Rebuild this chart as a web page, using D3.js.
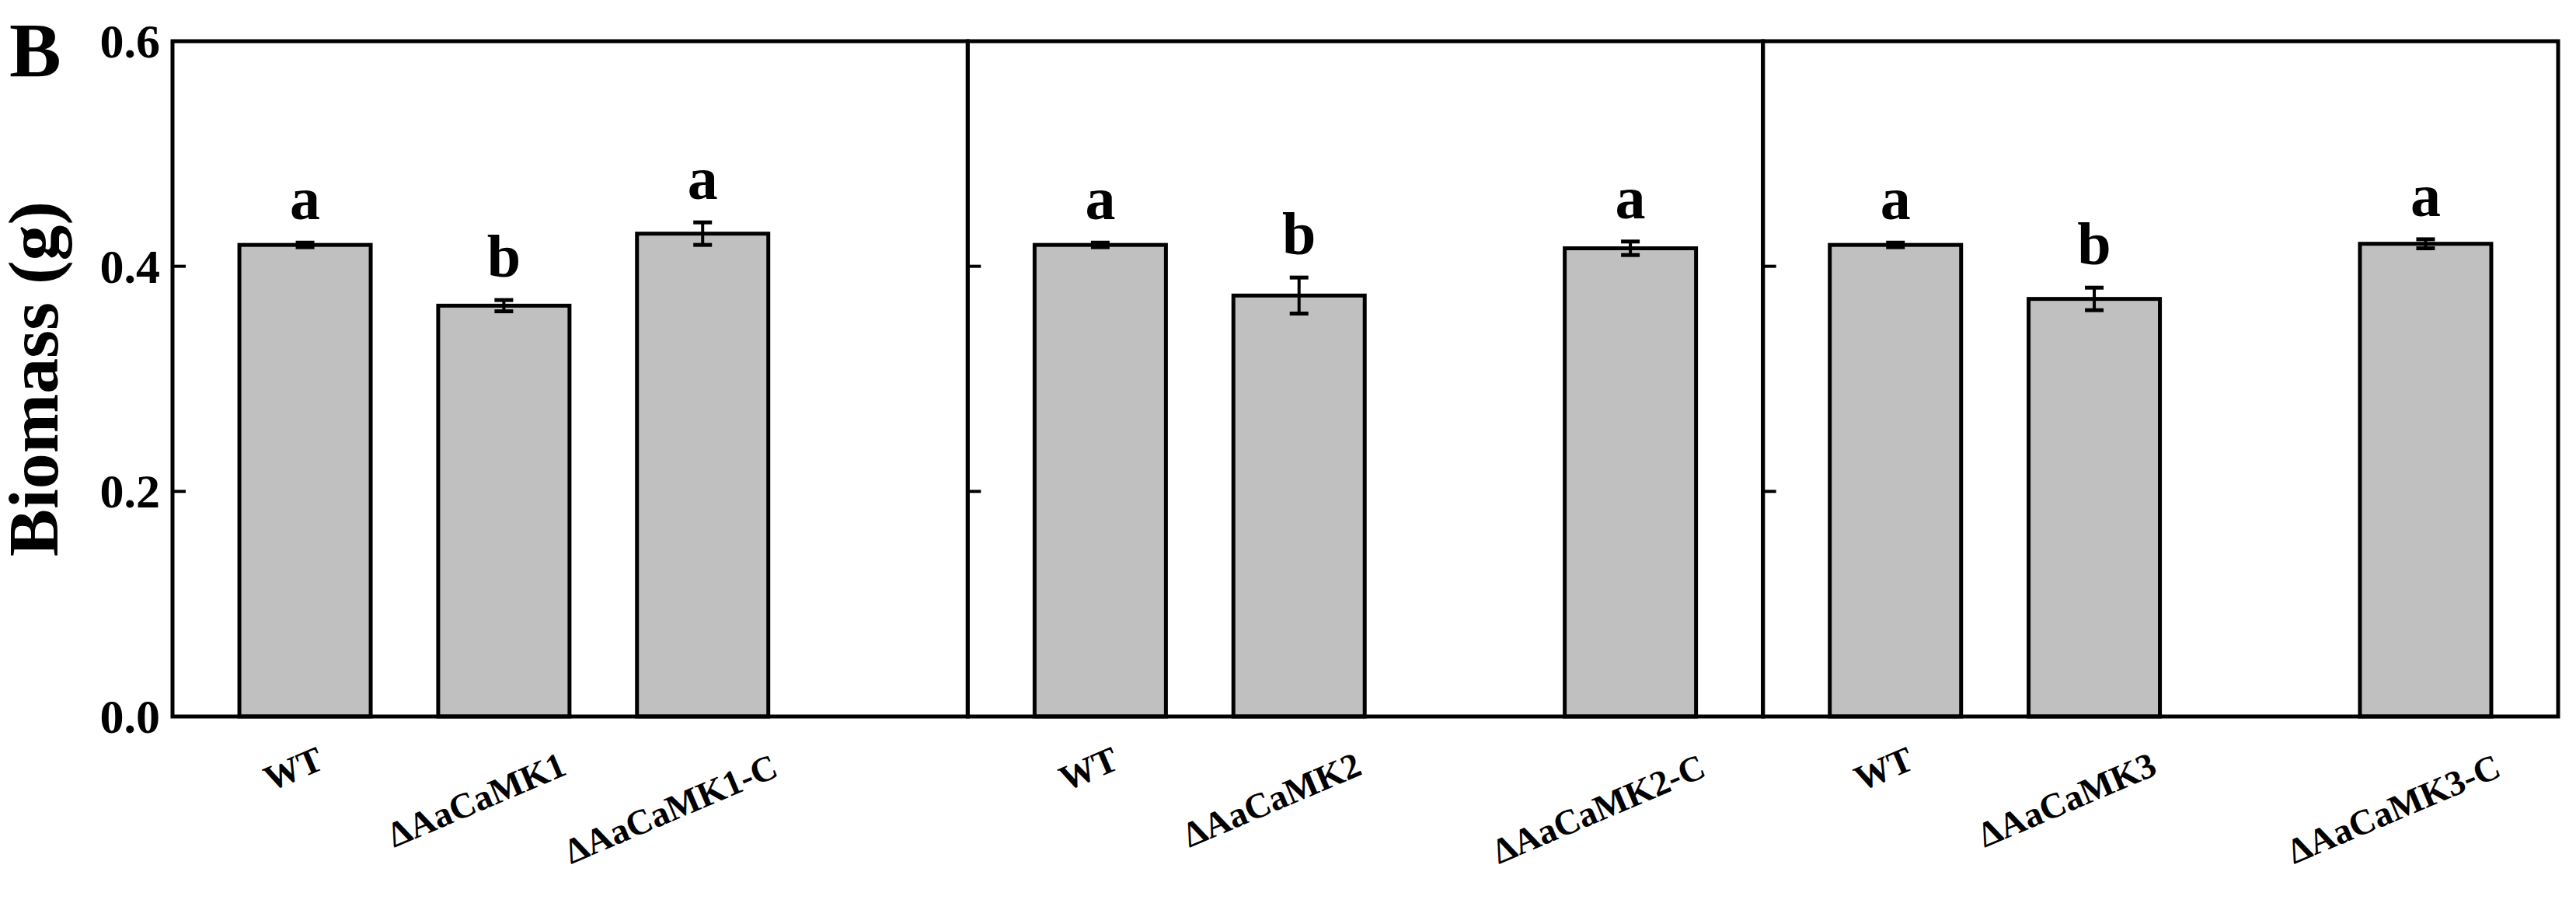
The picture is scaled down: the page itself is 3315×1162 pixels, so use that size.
<!DOCTYPE html>
<html><head><meta charset="utf-8">
<script src="https://cdn.jsdelivr.net/npm/d3@7"></script>
<style>body{margin:0;background:#fff}text{font-family:"Liberation Serif","Times New Roman",serif;font-weight:bold}</style>
</head><body>
<svg id="c" width="3315" height="1162"></svg>
<script>
const groups = ["1","2","3"];
const categories = [
  ["WT","ΔAaCaMK1","ΔAaCaMK1-C"],
  ["WT","ΔAaCaMK2","ΔAaCaMK2-C"],
  ["WT","ΔAaCaMK3","ΔAaCaMK3-C"]];
const slots = [[1,2.5,4],[1,2.5,5],[1,2.5,5]];
const values = [[0.419,0.365,0.429],[0.419,0.374,0.416],[0.419,0.371,0.420]];
const errors = [[0.002,0.005,0.010],[0.002,0.016,0.006],[0.002,0.010,0.004]];
const letters = [["a","b","a"],["a","b","a"],["a","b","a"]];
const yTicks = [0.0,0.2,0.4,0.6];

const svg = d3.select("#c");
const L=222, R=3292, T=53, B=922;
const y = d3.scaleLinear().domain([0,0.6]).range([B,T]);
const px = d3.scaleBand().domain(groups).range([L,R]);
const bw = 169;

groups.forEach((g,gi)=>{
  const x0 = px(g), w = px.bandwidth();
  const x = d3.scaleLinear().domain([0,6]).range([x0,x0+w]);
  const G = svg.append("g");
  categories[gi].forEach((c,i)=>{
    const cx = x(slots[gi][i]), v=values[gi][i], e=errors[gi][i];
    G.append("rect").attr("x",cx-bw/2).attr("y",y(v)).attr("width",bw).attr("height",y(0)-y(v))
      .attr("fill","#c0c0c0").attr("stroke","#000").attr("stroke-width",5);
    G.append("line").attr("x1",cx).attr("x2",cx).attr("y1",y(v-e)).attr("y2",y(v+e)).attr("stroke","#000").attr("stroke-width",4);
    [v-e,v+e].forEach(q=>G.append("line").attr("x1",cx-12).attr("x2",cx+12).attr("y1",y(q)).attr("y2",y(q)).attr("stroke","#000").attr("stroke-width",5));
    G.append("text").attr("x",cx).attr("y",y(v+e)-30).attr("text-anchor","middle").attr("font-size",78).text(letters[gi][i]);
    const t = G.append("text").attr("text-anchor","middle").attr("font-size",46).text(c);
    const len = t.node().getComputedTextLength();
    t.attr("transform",`translate(${cx-0.12*len},${985+0.24*len}) rotate(-23)`);
  });
  G.selectAll(".tk").data(yTicks).join("line").attr("x1",x0).attr("x2",x0+17)
    .attr("y1",d=>y(d)).attr("y2",d=>y(d)).attr("stroke","#000").attr("stroke-width",4);
  G.append("rect").attr("x",x0).attr("y",T).attr("width",w).attr("height",B-T).attr("fill","none").attr("stroke","#000").attr("stroke-width",5);
});
svg.selectAll(".yl").data(yTicks).join("text").attr("x",L-16).attr("y",d=>y(d)+21).attr("text-anchor","end")
  .attr("font-size",62).text(d=>d.toFixed(1));
svg.append("text").attr("transform",`translate(74,${(T+B)/2}) rotate(-90)`).attr("text-anchor","middle").attr("font-size",92).text("Biomass (g)");
svg.append("text").attr("x",12).attr("y",98).attr("font-size",100).text("B");
</script></body></html>
